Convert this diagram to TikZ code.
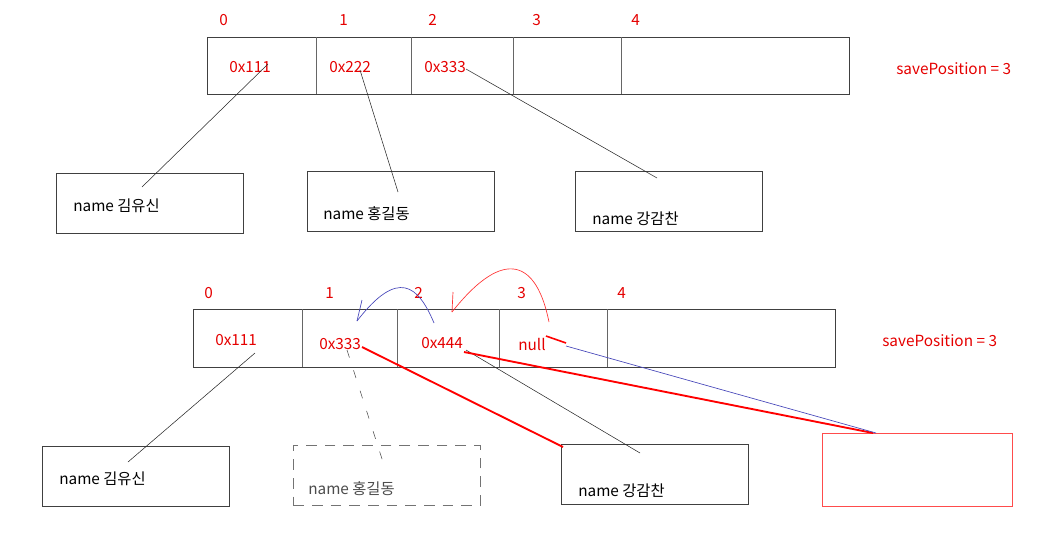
\documentclass[tikz,border=0pt]{standalone}
\usepackage{fontspec}
\setmainfont{Noto Sans CJK KR}
\begin{document}
\begin{tikzpicture}[x=0.75pt,y=-0.75pt,
  every node/.style={font=\fontsize{11.5}{13}\selectfont, inner sep=0pt},
  lbl/.style={anchor=west, text=red!90!black},
  txt/.style={anchor=west, text=black},
  arr/.style={draw=black!75, line width=0.6pt, anchor=north west, minimum width=481.5pt, minimum height=43pt},
  div/.style={draw=black!60, line width=0.6pt},
  box/.style={draw=black!75, line width=0.6pt, anchor=north west, minimum width=140.25pt, minimum height=45pt},
  link/.style={draw=black!85, line width=0.4pt},
  redlink/.style={draw=red, line width=1.4pt},
  bluelink/.style={draw=blue!45!gray, line width=0.5pt},
  redthin/.style={draw=red!80, line width=0.5pt}]
\useasboundingbox (0,0) rectangle (1057,536);

% ---------- top array ----------
\node[arr] (arrA) at (207,37) {};
\draw[div] (316,37) -- (316,94);
\draw[div] (411,37) -- (411,94);
\draw[div] (513,37) -- (513,94);
\draw[div] (621,37) -- (621,94);
\node[lbl] (ia0) at (219,20) {0};
\node[lbl] (ia1) at (339,20) {1};
\node[lbl] (ia2) at (428,20) {2};
\node[lbl] (ia3) at (532,20) {3};
\node[lbl] (ia4) at (631,20) {4};
\node[lbl] (va0) at (229,67) {0x111};
\node[lbl] (va1) at (329,67) {0x222};
\node[lbl] (va2) at (424,67) {0x333};
\node[lbl] (spA) at (896,69) {savePosition = 3};

\node[box] (bA1) at (56,173) {};
\node[box] (bA2) at (307,171) {};
\node[box] (bA3) at (575,171) {};
\node[txt] (tA1) at (73,206) {name 김유신};
\node[txt] (tA2) at (323,214) {name 홍길동};
\node[txt] (tA3) at (592,219) {name 강감찬};

\coordinate (pA1s) at (268,64);
\coordinate (pA1e) at (142,187);
\coordinate (pA2s) at (360,70);
\coordinate (pA2e) at (398,192);
\coordinate (pA3s) at (466,69);
\coordinate (pA3e) at (657,178);
\draw[link] (pA1s) -- (pA1e);
\draw[link] (pA2s) -- (pA2e);
\draw[link] (pA3s) -- (pA3e);

% ---------- bottom array ----------
\node[arr, minimum height=43.5pt] (arrB) at (193,309) {};
\draw[div] (302,309) -- (302,367);
\draw[div] (397,309) -- (397,367);
\draw[div] (499,309) -- (499,367);
\draw[div] (607,309) -- (607,367);
\node[lbl] (ib0) at (204,293) {0};
\node[lbl] (ib1) at (325,293) {1};
\node[lbl] (ib2) at (414,293) {2};
\node[lbl] (ib3) at (517,293) {3};
\node[lbl] (ib4) at (617,293) {4};
\node[lbl] (vb0) at (215,340) {0x111};
\node[lbl] (vb1) at (319,344) {0x333};
\node[lbl] (vb2) at (421,343) {0x444};
\node[lbl] (vb3) at (518,344) {null};
\node[lbl] (spB) at (882,341) {savePosition = 3};

\node[box] (bB1) at (42,446) {};
\node[box, draw=black!55, dashed, dash pattern=on 8pt off 6pt] (bB2) at (293,445) {};
\node[box] (bB3) at (561,444) {};
\node[box, draw=red!70, minimum width=142.5pt, minimum height=55pt] (bB4) at (822,433) {};
\node[txt] (tB1) at (59,479) {name 김유신};
\node[txt, text=black!70] (tB2) at (308,489) {name 홍길동};
\node[txt] (tB3) at (578,491) {name 강감찬};

\coordinate (pB0s) at (255,353);
\coordinate (pB0e) at (128,462);
\draw[link] (pB0s) -- (pB0e);

\coordinate (pB1s) at (347,350);
\coordinate (pB1e) at (383,462);
\draw[link, draw=black!70, dash pattern=on 6pt off 10pt] (pB1s) -- (pB1e);

\coordinate (rB1s) at (362,347);
\coordinate (rB1e) at (563,447);
\draw[redlink] (rB1s) -- (rB1e);

\coordinate (pB2s) at (466,350);
\coordinate (pB2e) at (640,453);
\draw[link] (pB2s) -- (pB2e);

\coordinate (rB2s) at (464,352);
\coordinate (rB2e) at (873,433);
\draw[redlink] (rB2s) -- (rB2e);

\coordinate (rn1) at (546,336);
\coordinate (rn2) at (566,343);
\draw[redlink, line width=1.2pt] (rn1) -- (rn2);

\coordinate (bl1) at (566,346);
\coordinate (bl2) at (876,433);
\draw[bluelink] (bl1) -- (bl2);

% curved move arrows
\coordinate (cb1) at (434,323);
\coordinate (cb2) at (357,321);
\coordinate (cb3) at (362,300);
\draw[bluelink] (cb1) .. controls (418,285) and (398,268) .. (cb2);
\draw[bluelink] (cb2) -- (cb3);

\coordinate (cr1) at (549,322);
\coordinate (cr2) at (452,312);
\coordinate (cr3) at (453,292);
\draw[redthin] (cr1) .. controls (537,262) and (505,245) .. (cr2);
\draw[redthin] (cr2) -- (cr3);
\end{tikzpicture}
\end{document}
